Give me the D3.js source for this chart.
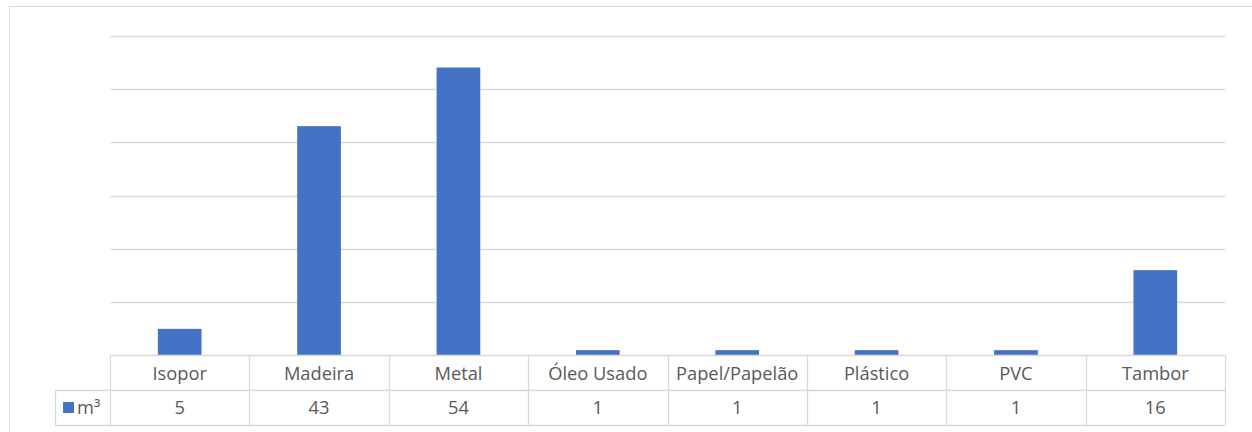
<!DOCTYPE html>
<html><head><meta charset="utf-8">
<script src="https://cdn.jsdelivr.net/npm/d3@7"></script>
<style>
html,body{margin:0;padding:0;background:#fff;}
svg{display:block;}
text{font-family:"Open Sans",Lato,sans-serif;fill:#595959;}
</style></head>
<body>
<svg id="c" width="1252" height="432"></svg>
<script>
const categories = ["Isopor","Madeira","Metal","Óleo Usado","Papel/Papelão","Plástico","PVC","Tambor"];
const values = [5,43,54,1,1,1,1,16];
const seriesName = "m³";
const yTicks = [0,10,20,30,40,50,60];

const svg = d3.select("#c");
const plot = {left:110, right:1225, top:35.5, bottom:355.5};
const tableRow1 = 390, tableBottom = 425, legendLeft = 55;
const grid = "#d9d9d9";
const fs = 18.3;

// chart frame
svg.append("rect").attr("x",9.5).attr("y",6.5).attr("width",1260).attr("height",440)
  .attr("fill","none").attr("stroke",grid).attr("stroke-width",1);

const x = d3.scaleBand().domain(categories).range([plot.left,plot.right]).paddingInner(0).paddingOuter(0);
const y = d3.scaleLinear().domain([0,60]).range([plot.bottom,plot.top]);

// gridlines
svg.append("g").selectAll("line").data(yTicks.slice(1)).join("line")
  .attr("x1",plot.left).attr("x2",plot.right)
  .attr("y1",d=>Math.round(y(d))+0.5).attr("y2",d=>Math.round(y(d))+0.5)
  .attr("stroke",grid).attr("stroke-width",1.3);

// bars
const bw = x.bandwidth()/3.19;
svg.append("g").selectAll("rect").data(values).join("rect")
  .attr("x",(d,i)=>x(categories[i])+x.bandwidth()/2-bw/2)
  .attr("width",bw)
  .attr("y",d=>y(d)).attr("height",d=>y(0)-y(d))
  .attr("fill","#4472C4");

// data table
const t = svg.append("g").attr("stroke",grid).attr("stroke-width",1.3).attr("fill","none");
t.append("line").attr("x1",plot.left).attr("x2",plot.right).attr("y1",355.5).attr("y2",355.5);
t.append("line").attr("x1",legendLeft).attr("x2",plot.right).attr("y1",tableRow1+0.5).attr("y2",tableRow1+0.5);
t.append("line").attr("x1",legendLeft).attr("x2",plot.right).attr("y1",tableBottom+0.5).attr("y2",tableBottom+0.5);
t.append("line").attr("x1",legendLeft+0.5).attr("x2",legendLeft+0.5).attr("y1",tableRow1).attr("y2",tableBottom);
const bounds = categories.map(c=>x(c)).concat([plot.right]);
t.selectAll("line.v").data(bounds).join("line").attr("class","v")
  .attr("x1",d=>Math.round(d)+0.5).attr("x2",d=>Math.round(d)+0.5)
  .attr("y1",355).attr("y2",tableBottom);

svg.append("g").selectAll("text").data(categories).join("text")
  .attr("x",d=>x(d)+x.bandwidth()/2).attr("y",380)
  .attr("text-anchor","middle").attr("font-size",fs).text(d=>d);
svg.append("g").selectAll("text").data(values).join("text")
  .attr("x",(d,i)=>x(categories[i])+x.bandwidth()/2).attr("y",414)
  .attr("text-anchor","middle").attr("font-size",fs).text(d=>d);

// legend key
svg.append("rect").attr("x",63).attr("y",402).attr("width",11).attr("height",11).attr("fill","#4472C4");
svg.append("text").attr("x",77).attr("y",414).attr("font-size",fs).text(seriesName);
</script>
</body></html>
